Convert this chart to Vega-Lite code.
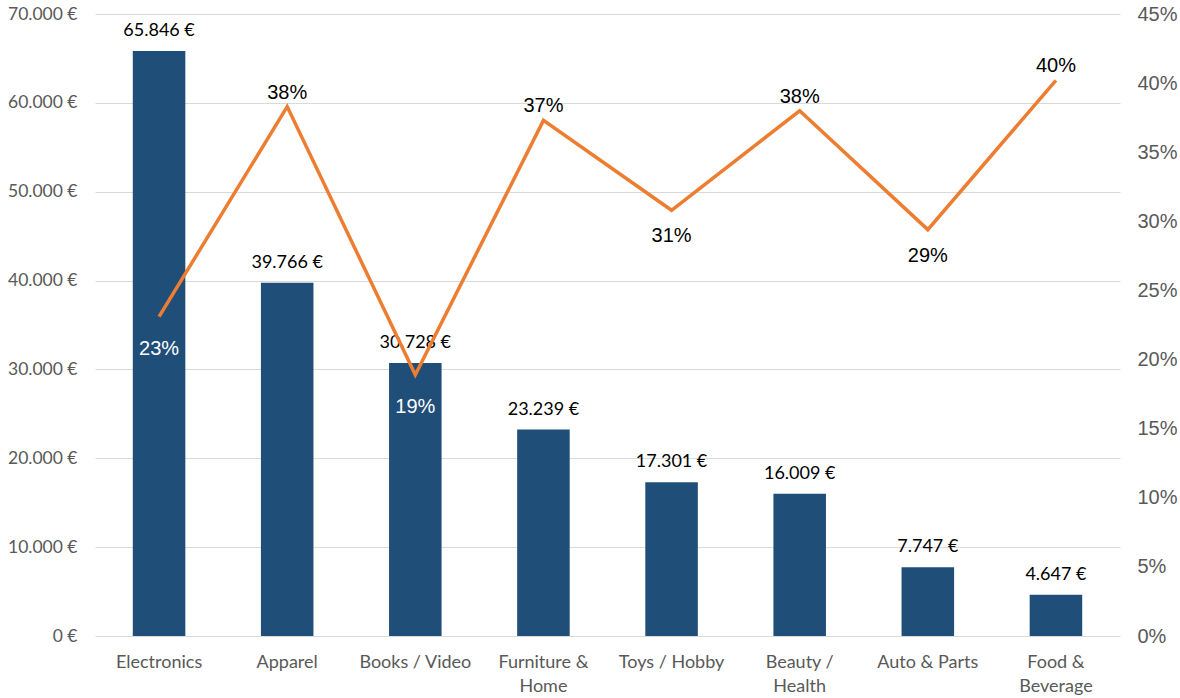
{
  "$schema": "https://vega.github.io/schema/vega-lite/v6.json",
  "width": 1025,
  "height": 622,
  "autosize": {"type": "none"},
  "padding": {"left": 95, "top": 14, "right": 60, "bottom": 62},
  "background": "white",
  "config": {
    "view": {"stroke": null},
    "locale": {
      "number": {"decimal": ",", "thousands": ".", "grouping": [3], "currency": ["", " €"]}
    }
  },
  "data": {
    "values": [
      {"category": "Electronics", "revenue": 65846, "share": 0.231},
      {"category": "Apparel", "revenue": 39766, "share": 0.383},
      {"category": "Books / Video", "revenue": 30728, "share": 0.189},
      {"category": "Furniture & Home", "revenue": 23239, "share": 0.373},
      {"category": "Toys / Hobby", "revenue": 17301, "share": 0.308},
      {"category": "Beauty / Health", "revenue": 16009, "share": 0.380},
      {"category": "Auto & Parts", "revenue": 7747, "share": 0.294},
      {"category": "Food & Beverage", "revenue": 4647, "share": 0.402}
    ]
  },
  "encoding": {
    "x": {
      "field": "category",
      "type": "nominal",
      "sort": null,
      "scale": {"paddingInner": 0.59, "paddingOuter": 0.295},
      "axis": {
        "title": null,
        "domain": false,
        "ticks": false,
        "labelAngle": 0,
        "labelFont": "Lato",
        "labelFontSize": 18,
        "labelColor": "#595959",
        "labelPadding": 17,
        "labelBaseline": "top",
        "labelLineHeight": 24,
        "labelExpr": "length(datum.label) > 14 ? [substring(datum.label, 0, lastindexof(datum.label, ' ')), substring(datum.label, lastindexof(datum.label, ' ') + 1)] : datum.label"
      }
    }
  },
  "layer": [
    {
      "layer": [
        {
          "mark": {"type": "bar", "color": "#1F4E79"},
          "encoding": {
            "y": {
              "field": "revenue",
              "type": "quantitative",
              "scale": {"domain": [0, 70000]},
              "axis": {
                "orient": "left",
                "title": null,
                "values": [0, 10000, 20000, 30000, 40000, 50000, 60000, 70000],
                "format": "$,.0f",
                "domain": false,
                "ticks": false,
                "labelFont": "Lato",
                "labelFontSize": 17.5,
                "labelColor": "#595959",
                "labelPadding": 18,
                "gridColor": "#d9d9d9",
                "gridWidth": 1
              }
            }
          }
        },
        {
          "mark": {"type": "text", "font": "Lato", "fontSize": 18, "color": "#000000", "baseline": "alphabetic", "dy": -15},
          "encoding": {
            "y": {"field": "revenue", "type": "quantitative"},
            "text": {"field": "revenue", "type": "quantitative", "format": "$,.0f"}
          }
        }
      ]
    },
    {
      "layer": [
        {
          "mark": {"type": "line", "color": "#ED7D31", "strokeWidth": 3.5},
          "encoding": {
            "y": {
              "field": "share",
              "type": "quantitative",
              "scale": {"domain": [0, 0.45]},
              "axis": {
                "orient": "right",
                "title": null,
                "values": [0, 0.05, 0.1, 0.15, 0.2, 0.25, 0.3, 0.35, 0.4, 0.45],
                "format": ".0%",
                "grid": false,
                "domain": false,
                "ticks": false,
                "labelFont": "Liberation Sans",
                "labelFontSize": 20,
                "labelColor": "#595959",
                "labelPadding": 17
              }
            }
          }
        },
        {
          "transform": [{"filter": {"field": "category", "oneOf": ["Apparel", "Furniture & Home", "Beauty / Health", "Food & Beverage"]}}],
          "mark": {"type": "text", "font": "Liberation Sans", "fontSize": 20, "color": "#000000", "baseline": "alphabetic", "dy": -8},
          "encoding": {
            "y": {"field": "share", "type": "quantitative"},
            "text": {"field": "share", "type": "quantitative", "format": ".0%"}
          }
        },
        {
          "transform": [{"filter": {"field": "category", "oneOf": ["Toys / Hobby", "Auto & Parts"]}}],
          "mark": {"type": "text", "font": "Liberation Sans", "fontSize": 20, "color": "#000000", "baseline": "alphabetic", "dy": 32},
          "encoding": {
            "y": {"field": "share", "type": "quantitative"},
            "text": {"field": "share", "type": "quantitative", "format": ".0%"}
          }
        },
        {
          "transform": [{"filter": {"field": "category", "oneOf": ["Electronics", "Books / Video"]}}],
          "mark": {"type": "text", "font": "Liberation Sans", "fontSize": 20, "color": "#FFFFFF", "baseline": "alphabetic", "dy": 38},
          "encoding": {
            "y": {"field": "share", "type": "quantitative"},
            "text": {"field": "share", "type": "quantitative", "format": ".0%"}
          }
        }
      ]
    }
  ],
  "resolve": {"scale": {"y": "independent"}}
}
